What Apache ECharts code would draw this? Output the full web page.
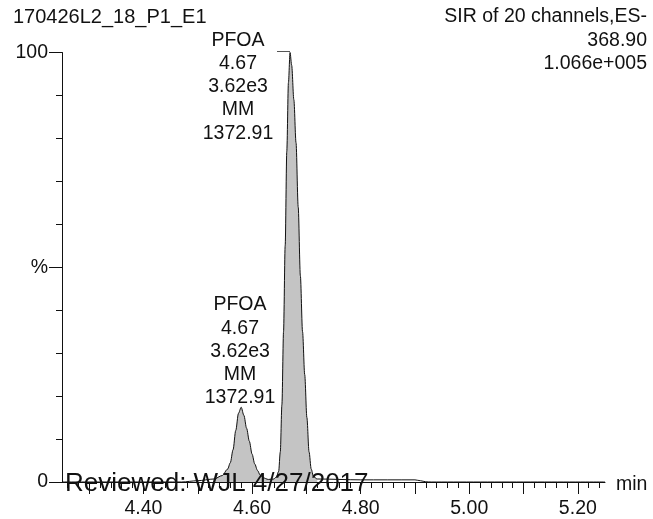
<!DOCTYPE html>
<html>
<head>
<meta charset="utf-8">
<script src="https://cdn.jsdelivr.net/npm/echarts@6/dist/echarts.min.js"></script>
<style>
  html, body { margin: 0; padding: 0; background: #ffffff; }
  #chart { width: 653px; height: 519px; }
</style>
</head>
<body>
<div id="chart"></div>
<script>
// SIR trace (retention time in min, relative intensity in %)
const retentionTimes = [
  4.25, 4.40, 4.47, 4.50, 4.53, 4.545, 4.555, 4.560, 4.565, 4.570, 4.575, 4.580,
  4.585, 4.590, 4.595, 4.600, 4.605, 4.610, 4.615, 4.620, 4.630, 4.640, 4.645,
  4.649, 4.652, 4.655, 4.658, 4.661, 4.664, 4.667, 4.670, 4.673, 4.677, 4.681,
  4.685, 4.689, 4.693, 4.697, 4.701, 4.705, 4.709, 4.713, 4.720, 4.800, 4.900,
  4.910, 4.920, 4.930, 5.25
];
const intensities = [
  0, 0, 0, 0.3, 0.7, 1.5, 3.0, 4.5, 7.5, 12, 16, 17.4,
  15.5, 12.5, 9.5, 6.5, 4.2, 2.7, 1.6, 1.0, 0.6, 0.7, 1.2,
  2.5, 7, 18, 35, 55, 77, 93, 100, 97, 89, 79,
  64, 48, 35, 25, 15, 7, 3, 1.3, 0.7, 0.5, 0.5,
  0.3, 0.05, 0, 0
];
// integrated window (shaded)
const integrationStart = 4.53;
const integrationEnd = 4.72;

// axis ticks
const xLabelValues = [4.4, 4.6, 4.8, 5.0, 5.2];
const xMajorTicks = [4.3, 4.4, 4.5, 4.6, 4.7, 4.8, 4.9, 5.0, 5.1, 5.2];
const yLabelValues = [0, 50, 100];
const yLabelTexts = ['0', '%', '100'];

// peak annotation
const peakName = 'PFOA';
const peakTime = '4.67';
const peakHeight = '3.62e3';
const peakType = 'MM';
const peakArea = '1372.91';

const sampleName = '170426L2_18_P1_E1';
const traceInfo = ['SIR of 20 channels,ES-', '368.90', '1.066e+005'];
const reviewNote = 'Reviewed: WJL 4/27/2017';

const xMinorTicks = [];
for (let i = 0; i <= 50; i++) {
  const v = Math.round((4.26 + i * 0.02) * 100) / 100;
  if (v < 5.25) xMinorTicks.push(v);
}

const trace = retentionTimes.map((t, i) => [t, intensities[i]]);
const shaded = trace.filter(p => p[0] >= integrationStart && p[0] <= integrationEnd);

const FONT = '"Liberation Sans", Arial, sans-serif';
const fs = 19.5;

const chart = echarts.init(document.getElementById('chart'), null, { renderer: 'canvas' });

const peakBlock = [peakName, peakTime, peakHeight, peakType, peakArea].join('\n');

chart.setOption({
  animation: false,
  backgroundColor: '#ffffff',
  grid: { left: 62, right: 48, top: 52.5, bottom: 35, containLabel: false },
  xAxis: [
    {
      type: 'value', min: 4.25, max: 5.25, position: 'bottom',
      axisLine: { show: true, onZero: false, lineStyle: { color: '#111', width: 1 } },
      axisTick: { show: true, length: 12, customValues: xMajorTicks, lineStyle: { color: '#111' } },
      axisLabel: {
        show: true, customValues: xLabelValues, margin: 17,
        fontSize: fs, fontFamily: FONT, color: '#111',
        formatter: v => v.toFixed(2)
      },
      splitLine: { show: false }
    },
    {
      type: 'value', min: 4.25, max: 5.25, position: 'bottom',
      axisLine: { show: false },
      axisTick: { show: true, length: 6, customValues: xMinorTicks, lineStyle: { color: '#111' } },
      axisLabel: { show: false },
      splitLine: { show: false }
    }
  ],
  yAxis: [
    {
      type: 'value', min: 0, max: 100, interval: 10, position: 'left',
      axisLine: { show: true, onZero: false, lineStyle: { color: '#111', width: 1 } },
      axisTick: { show: true, length: 6, lineStyle: { color: '#111' } },
      axisLabel: { show: false },
      splitLine: { show: false }
    },
    {
      type: 'value', min: 0, max: 100, position: 'left',
      axisLine: { show: false },
      axisTick: { show: true, length: 13, customValues: yLabelValues, lineStyle: { color: '#111' } },
      axisLabel: {
        show: true, customValues: yLabelValues, margin: 14,
        fontSize: fs, fontFamily: FONT, color: '#111',
        formatter: v => yLabelTexts[yLabelValues.indexOf(v)]
      },
      splitLine: { show: false }
    }
  ],
  series: [
    {
      type: 'line', xAxisIndex: 0, yAxisIndex: 0,
      data: shaded, showSymbol: false, smooth: 0.3, smoothMonotone: 'x',
      lineStyle: { width: 0 },
      areaStyle: { color: '#c4c4c4', opacity: 1 },
      z: 2
    },
    {
      type: 'line', xAxisIndex: 0, yAxisIndex: 0,
      data: trace, showSymbol: false, smooth: 0.3, smoothMonotone: 'x',
      lineStyle: { color: '#111', width: 1 },
      z: 3
    }
  ],
  graphic: [
    {
      type: 'text', x: 13, y: 7, z: 10,
      style: { text: sampleName, font: '20px ' + FONT, fill: '#111', align: 'left', verticalAlign: 'top' }
    },
    {
      type: 'text', x: 647, y: 5.5, z: 10,
      style: { text: traceInfo.join('\n'), font: fs + 'px ' + FONT, lineHeight: 23.2, fill: '#111', align: 'right', verticalAlign: 'top' }
    },
    {
      type: 'text', x: 238, y: 28.5, z: 10,
      style: { text: peakBlock, font: fs + 'px ' + FONT, lineHeight: 23.3, fill: '#111', align: 'center', verticalAlign: 'top' }
    },
    {
      type: 'text', x: 240, y: 293.5, z: 10,
      style: { text: peakBlock, font: fs + 'px ' + FONT, lineHeight: 23.2, fill: '#111', align: 'center', verticalAlign: 'top' }
    },
    {
      type: 'line', z: 10,
      shape: { x1: 277, y1: 51.5, x2: 290, y2: 51.5 },
      style: { stroke: '#555', lineWidth: 1 }
    },
    {
      type: 'text', x: 616, y: 485, z: 10,
      style: { text: 'min', font: fs + 'px ' + FONT, fill: '#111', align: 'left', verticalAlign: 'middle' }
    },
    {
      type: 'text', x: 65, y: 484, z: 20,
      style: { text: reviewNote, font: '26px ' + FONT, fill: '#111', align: 'left', verticalAlign: 'middle' }
    }
  ]
});
</script>
</body>
</html>
